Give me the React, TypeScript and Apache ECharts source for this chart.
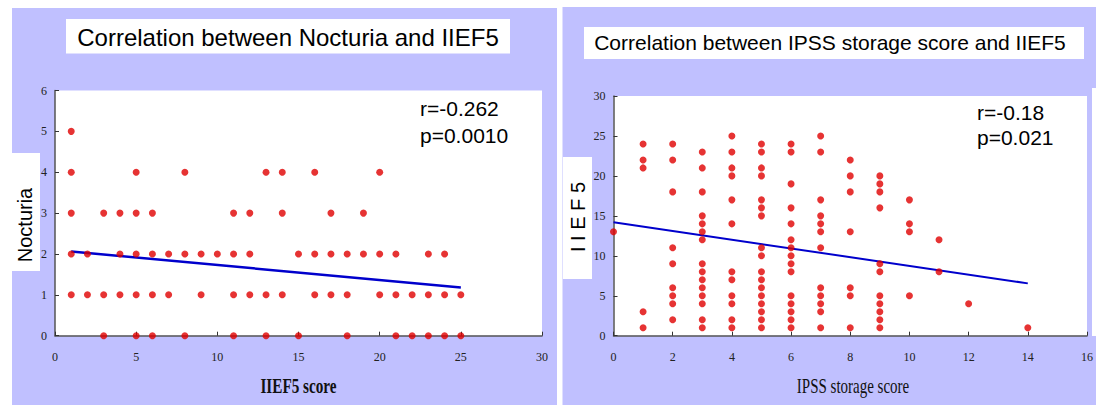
import React, { useEffect, useRef } from "react";
import * as echarts from "echarts";

const W = 1096;
const H = 405;

// ---- Left chart: Nocturia (y) vs IIEF5 score (x) ----
const nocturiaLevels = [0, 1, 2, 3, 4, 5];
const iief5ScoresByNocturia: number[][] = [
  [3, 5, 6, 8, 11, 13, 15, 18, 21, 22, 23, 24, 25],
  [1, 2, 3, 4, 5, 6, 7, 9, 11, 12, 13, 14, 16, 17, 18, 20, 21, 22, 23, 24, 25],
  [1, 2, 4, 5, 6, 7, 8, 9, 10, 11, 12, 15, 16, 17, 18, 19, 20, 21, 23, 24],
  [1, 3, 4, 5, 6, 11, 12, 14, 17, 19],
  [1, 5, 8, 13, 14, 16, 20],
  [1],
];
const nocturiaFitLine = [
  [1, 2.06],
  [25, 1.18],
];
const leftXTicks = { min: 0, max: 30, interval: 5 };
const leftYTicks = { min: 0, max: 6, interval: 1 };

// ---- Right chart: IIEF5 (y) vs IPSS storage score (x) ----
const ipssStorageScores = [0, 1, 2, 3, 4, 5, 6, 7, 8, 9, 10, 11, 12, 14];
const iief5ByIpssStorage: number[][] = [
  [13],
  [24, 22, 21, 3, 1],
  [24, 22, 18, 11, 9, 6, 5, 4, 2],
  [23, 21, 18, 15, 14, 13, 12, 9, 8, 7, 6, 5, 4, 2, 1],
  [25, 23, 21, 20, 17, 14, 8, 7, 5, 4, 2, 1],
  [24, 23, 21, 20, 17, 16, 15, 11, 10, 8, 7, 6, 5, 4, 3, 2, 1],
  [24, 23, 19, 16, 14, 12, 11, 10, 9, 8, 5, 4, 3, 2, 1],
  [25, 23, 17, 15, 14, 13, 11, 6, 5, 4, 3, 1],
  [22, 20, 18, 13, 6, 5, 1],
  [20, 19, 18, 16, 9, 8, 5, 4, 3, 2, 1],
  [17, 14, 13, 5],
  [12, 8],
  [4],
  [1],
];
const ipssFitLine = [
  [0, 14.2],
  [14, 6.55],
];
const rightXTicks = { min: 0, max: 16, interval: 2 };
const rightYTicks = { min: 0, max: 30, interval: 5 };

// texts
const leftTitle = "Correlation between Nocturia and IIEF5";
const rightTitle = "Correlation between IPSS storage score and IIEF5";
const leftStats = ["r=-0.262", "p=0.0010"];
const rightStats = ["r=-0.18", "p=0.021"];
const leftXName = "IIEF5 score";
const leftYName = "Nocturia";
const rightXName = "IPSS storage score";
const rightYName = "I I E F 5";

const LAVENDER = "#C0C0FF";
const RED = "#E00000";
const BLUE = "#0000CC";
const SANS = "Liberation Sans";
const SERIF = "Liberation Serif";

function txt(
  text: string,
  x: number,
  y: number,
  o: {
    size: number;
    family?: string;
    weight?: string;
    align?: string;
    rotation?: number;
    scaleX?: number;
    color?: string;
  }
) {
  const align = o.align || "center";
  return {
    type: "text",
    x,
    y,
    z: 20,
    rotation: o.rotation || 0,
    scaleX: o.scaleX || 1,
    silent: true,
    style: {
      text,
      x: 0,
      y: 0,
      fill: o.color || "#000",
      fontSize: o.size,
      fontFamily: o.family || SANS,
      fontWeight: o.weight || "normal",
      align,
      verticalAlign: "middle",
      textAlign: align,
      textVerticalAlign: "middle",
    },
  };
}

function rect(x: number, y: number, w: number, h: number, fill: string, z: number) {
  return {
    type: "rect",
    z,
    silent: true,
    shape: { x, y, width: w, height: h },
    style: { fill, stroke: null },
  };
}

function buildOption() {
  const leftPoints: number[][] = [];
  nocturiaLevels.forEach((lv, i) => {
    iief5ScoresByNocturia[i].forEach((s) => leftPoints.push([s, lv]));
  });
  const rightPoints: number[][] = [];
  ipssStorageScores.forEach((s, i) => {
    iief5ByIpssStorage[i].forEach((v) => rightPoints.push([s, v]));
  });

  const axisCommon = {
    axisLine: { show: true, onZero: false, lineStyle: { color: "#555", width: 1.5 } },
    axisTick: { show: true, inside: true, length: 4, lineStyle: { color: "#333", width: 1 } },
    splitLine: { show: false },
  };
  const xLabel = { fontFamily: SERIF, fontSize: 12, color: "#222", margin: 15 };
  const yLabel = { fontFamily: SERIF, fontSize: 12, color: "#222", margin: 8 };

  return {
    animation: false,
    backgroundColor: "#fff",
    grid: [
      { left: 55, top: 90.5, width: 487, height: 245.2, show: true, backgroundColor: "#fff", borderWidth: 0 },
      { left: 613.5, top: 96, width: 479, height: 239.7, show: true, backgroundColor: "#fff", borderWidth: 0 },
    ],
    xAxis: [
      { type: "value", gridIndex: 0, ...leftXTicks, ...axisCommon, axisLabel: xLabel },
      { type: "value", gridIndex: 1, ...rightXTicks, ...axisCommon, axisLabel: xLabel },
    ],
    yAxis: [
      { type: "value", gridIndex: 0, ...leftYTicks, ...axisCommon, axisLabel: yLabel },
      { type: "value", gridIndex: 1, ...rightYTicks, ...axisCommon, axisLabel: yLabel },
    ],
    series: [
      {
        type: "line",
        xAxisIndex: 0,
        yAxisIndex: 0,
        data: nocturiaFitLine,
        symbol: "none",
        silent: true,
        lineStyle: { color: BLUE, width: 2.5 },
        z: 3,
      },
      {
        type: "scatter",
        xAxisIndex: 0,
        yAxisIndex: 0,
        data: leftPoints,
        symbol: "circle",
        symbolSize: 7,
        itemStyle: { color: RED },
        z: 4,
      },
      {
        type: "line",
        xAxisIndex: 1,
        yAxisIndex: 1,
        data: ipssFitLine,
        symbol: "none",
        silent: true,
        lineStyle: { color: BLUE, width: 2 },
        z: 3,
      },
      {
        type: "scatter",
        xAxisIndex: 1,
        yAxisIndex: 1,
        data: rightPoints,
        symbol: "circle",
        symbolSize: 7,
        itemStyle: { color: RED },
        z: 4,
      },
    ],
    graphic: {
      elements: [
        // panels
        rect(12, 8, 545, 400, LAVENDER, -100),
        rect(562.5, 7, 540, 400, LAVENDER, -100),
        rect(1092, 88, 6, 248, "#fff", -90),
        // titles
        rect(66, 19, 444, 34.5, "#fff", 10),
        txt(leftTitle, 288, 37, { size: 24 }),
        rect(584, 27, 500, 32, "#fff", 10),
        txt(rightTitle, 830, 42.7, { size: 21 }),
        // y-axis name boxes
        rect(12, 153, 28, 118, "#fff", 10),
        txt(leftYName, 24.5, 225, { size: 20, rotation: Math.PI / 2 }),
        rect(563, 157, 29, 122, "#fff", 10),
        txt(rightYName, 577.5, 217, { size: 20, rotation: Math.PI / 2 }),
        // stats
        txt(leftStats[0], 420, 108.6, { size: 21, align: "left" }),
        txt(leftStats[1], 420, 135.3, { size: 21, align: "left" }),
        txt(rightStats[0], 977, 112.6, { size: 21, align: "left" }),
        txt(rightStats[1], 977, 137.6, { size: 21, align: "left" }),
        // x-axis names
        txt(leftXName, 298.5, 386.5, { size: 20, family: SERIF, weight: "bold", scaleX: 0.76, color: "#111" }),
        txt(rightXName, 853, 386.5, { size: 20, family: SERIF, scaleX: 0.75, color: "#111" }),
      ],
    },
  };
}

export default function App() {
  const ref = useRef<HTMLDivElement>(null);
  useEffect(() => {
    if (!ref.current) return;
    const chart = echarts.init(ref.current, null, { renderer: "svg", width: W, height: H });
    chart.setOption(buildOption() as any);
    return () => chart.dispose();
  }, []);
  return (
    <div
      ref={ref}
      style={{ position: "fixed", left: 0, top: 0, width: W, height: H, background: "#fff" }}
    />
  );
}
